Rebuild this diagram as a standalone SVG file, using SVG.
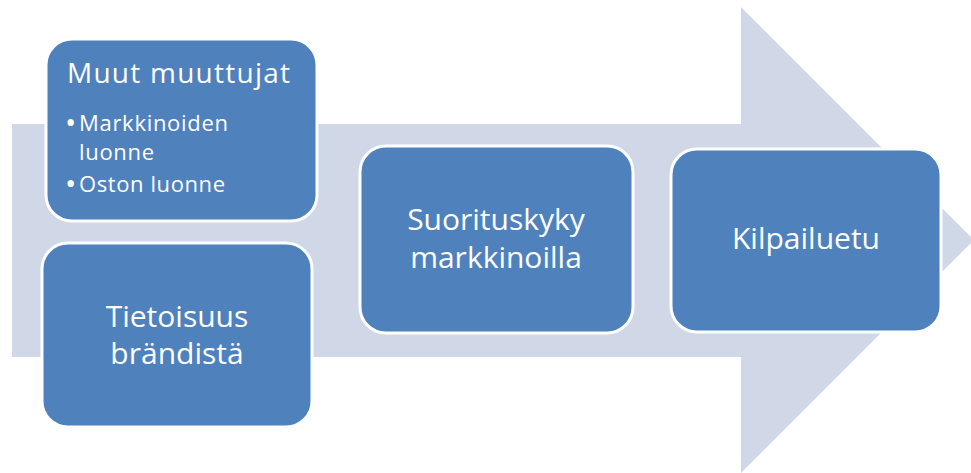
<svg xmlns="http://www.w3.org/2000/svg" width="971" height="473" viewBox="0 0 971 473">
<style>
.box{fill:#4F81BD;stroke:#FFFFFF;stroke-width:3}
.t{fill:#FFFFFF;font-family:"Open Sans","Liberation Sans",Arial,sans-serif}
.c{text-anchor:middle;font-size:30px}
.h{font-size:28px}
.b{font-size:22px}
.bu{font-size:30px}
</style>
<rect width="971" height="473" fill="#FFFFFF"/>
<g id="arrow">
<polygon points="12,124 741,124 741,7 974,240 741,473 741,357 12,357" fill="#D0D8E8"/>
</g>
<g id="connectors"></g>
<g id="muut">
<rect class="box" x="46" y="39" width="271" height="182" rx="26"/>
<text class="t h" x="67" y="83" textLength="223">Muut muuttujat</text>
<text class="t bu" x="65" y="133">•</text>
<text class="t b" x="79" y="131" textLength="149">Markkinoiden</text>
<text class="t b" x="79" y="160" textLength="75">luonne</text>
<text class="t bu" x="65" y="194">•</text>
<text class="t b" x="79" y="192" textLength="146">Oston luonne</text>
</g>
<g id="tietoisuus">
<rect class="box" x="42" y="243" width="270" height="184" rx="26"/>
<text class="t c" x="177" y="327">Tietoisuus</text>
<text class="t c" x="177" y="364">brändistä</text>
</g>
<g id="suorituskyky">
<rect class="box" x="360" y="146" width="273" height="187" rx="26"/>
<text class="t c" x="496" y="230">Suorituskyky</text>
<text class="t c" x="496" y="268">markkinoilla</text>
</g>
<g id="kilpailuetu">
<rect class="box" x="671" y="149" width="270" height="183" rx="26"/>
<text class="t c" x="806" y="249">Kilpailuetu</text>
</g>
</svg>
